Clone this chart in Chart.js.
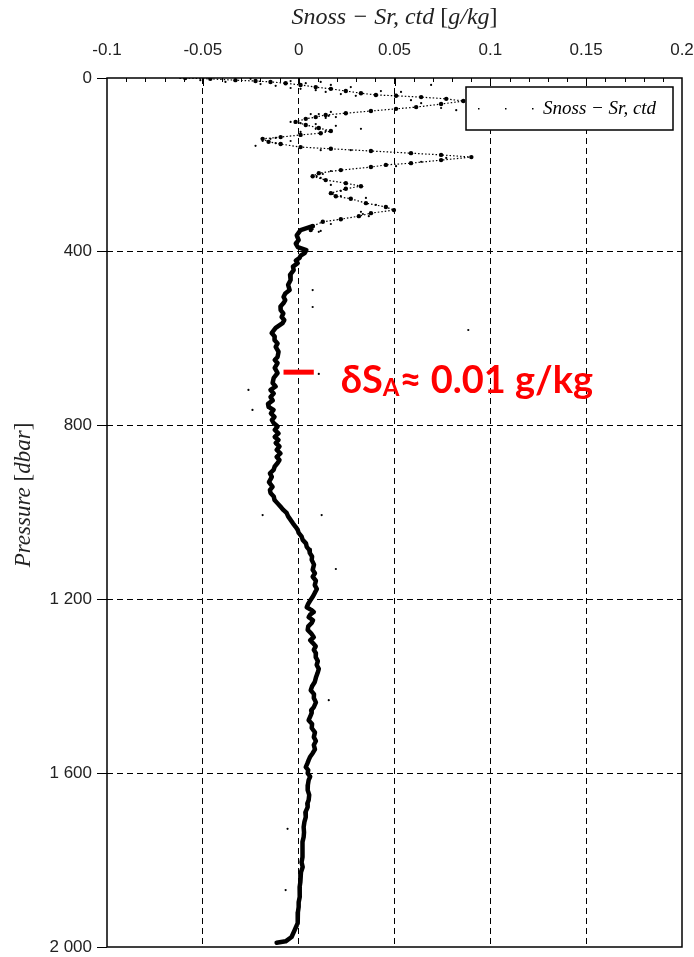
<!DOCTYPE html>
<html>
<head>
<meta charset="utf-8">
<script src="https://cdn.jsdelivr.net/npm/chart.js@4.4.0/dist/chart.umd.min.js"></script>
<style>
html, body { margin: 0; padding: 0; background: #fff; }
#wrap { width: 694px; height: 957px; }
</style>
</head>
<body>
<div id="wrap"><canvas id="profil" width="694" height="957"></canvas></div>
<script>
// Profil Snoss - Sr,ctd : [pression dbar, ecart g/kg]
// partie haute, zig-zag bruité (0 - 350 dbar)
const profilHaut = [
  [0,-0.0592],[2,-0.0461],[5,-0.0330],[7,-0.0225],[9,-0.0147],[12,-0.0068],[16,0.0010],[21,0.0089],
  [25,0.0168],[30,0.0246],[35,0.0325],[39,0.0403],[41,0.0508],[44,0.0639],[48,0.0770],[53,0.0859],
  [60,0.0743],[67,0.0613],[71,0.0508],[76,0.0377],[81,0.0246],[85,0.0141],[90,0.0089],[94,0.0037],
  [101,-0.0016],[108,0.0037],[115,0.0105],[122,0.0168],[127,0.0115],[131,0.0010],[136,-0.0094],[140,-0.0188],
  [147,-0.0157],[152,-0.0094],[159,0.0010],[163,0.0168],[168,0.0377],[173,0.0586],[177,0.0743],[182,0.0901],
  [189,0.0743],[196,0.0586],[200,0.0455],[205,0.0377],[212,0.0220],[219,0.0105],[226,0.0073],[235,0.0141],
  [242,0.0246],[249,0.0325],[255,0.0246],[265,0.0168],[272,0.0194],[278,0.0272],[288,0.0351],[297,0.0455],
  [304,0.0497],[311,0.0377],[318,0.0314],[325,0.0220],[331,0.0126],[341,0.0073],[350,0.0063]
];

// partie basse, trace continue (350 - 2000 dbar)
const profilBas = [
  [341,0.0073],[350,0.0010],[362,-0.0010],[373,0.0000],[381,-0.0015],[389,-0.0005],[396,0.0040],[403,0.0031],
  [409,0.0010],[414,0.0005],[420,-0.0015],[426,-0.0005],[434,-0.0030],[442,-0.0026],[453,-0.0045],[465,-0.0042],
  [476,-0.0055],[488,-0.0047],[496,-0.0070],[504,-0.0079],[511,-0.0070],[518,-0.0079],[526,-0.0095],[534,-0.0094],
  [542,-0.0080],[550,-0.0089],[557,-0.0075],[564,-0.0084],[575,-0.0120],[587,-0.0141],[595,-0.0125],[603,-0.0126],
  [611,-0.0110],[619,-0.0120],[630,-0.0105],[642,-0.0110],[649,-0.0125],[656,-0.0110],[667,-0.0125],[679,-0.0110],
  [690,-0.0130],[702,-0.0136],[710,-0.0120],[718,-0.0147],[726,-0.0130],[734,-0.0147],[742,-0.0135],[750,-0.0160],
  [757,-0.0157],[764,-0.0131],[772,-0.0145],[780,-0.0126],[787,-0.0140],[794,-0.0131],[802,-0.0110],[810,-0.0125],
  [818,-0.0105],[826,-0.0125],[833,-0.0105],[840,-0.0120],[848,-0.0100],[856,-0.0115],[864,-0.0095],[872,-0.0115],
  [879,-0.0100],[886,-0.0110],[894,-0.0125],[902,-0.0131],[910,-0.0150],[918,-0.0140],[930,-0.0155],[941,-0.0136],
  [948,-0.0150],[955,-0.0147],[963,-0.0130],[971,-0.0126],[979,-0.0110],[987,-0.0094],[994,-0.0080],[1001,-0.0063],
  [1009,-0.0055],[1017,-0.0042],[1025,-0.0030],[1033,-0.0016],[1040,-0.0005],[1047,0.0000],[1055,0.0015],[1063,0.0021],
  [1071,0.0038],[1079,0.0042],[1086,0.0055],[1093,0.0058],[1101,0.0070],[1109,0.0068],[1120,0.0080],[1132,0.0073],
  [1140,0.0085],[1148,0.0073],[1157,0.0090],[1167,0.0084],[1176,0.0095],[1185,0.0084],[1193,0.0075],[1201,0.0063],
  [1210,0.0050],[1218,0.0042],[1224,0.0065],[1229,0.0079],[1235,0.0060],[1241,0.0052],[1248,0.0075],[1254,0.0068],
  [1262,0.0050],[1270,0.0047],[1278,0.0065],[1287,0.0079],[1294,0.0060],[1300,0.0073],[1308,0.0089],[1316,0.0079],
  [1324,0.0090],[1333,0.0089],[1342,0.0100],[1351,0.0094],[1360,0.0105],[1369,0.0099],[1380,0.0090],[1390,0.0084],
  [1400,0.0070],[1409,0.0063],[1418,0.0080],[1427,0.0079],[1437,0.0090],[1448,0.0079],[1455,0.0065],[1461,0.0068],
  [1470,0.0060],[1478,0.0052],[1487,0.0070],[1496,0.0068],[1506,0.0085],[1517,0.0079],[1526,0.0090],[1535,0.0079],
  [1545,0.0085],[1554,0.0073],[1562,0.0060],[1570,0.0052],[1578,0.0045],[1586,0.0037],[1593,0.0050],[1600,0.0047],
  [1608,0.0060],[1616,0.0052],[1627,0.0048],[1639,0.0047],[1650,0.0055],[1662,0.0052],[1670,0.0045],[1678,0.0047],
  [1690,0.0035],[1701,0.0037],[1712,0.0030],[1724,0.0026],[1736,0.0028],[1747,0.0026],[1758,0.0020],[1770,0.0021],
  [1782,0.0018],[1793,0.0021],[1805,0.0015],[1816,0.0021],[1828,0.0012],[1839,0.0010],[1850,0.0008],[1862,0.0005],
  [1873,0.0006],[1885,0.0005],[1897,0.0000],[1908,0.0000],[1920,-0.0004],[1931,-0.0005],[1945,-0.0005],[1961,-0.0021],
  [1977,-0.0037],[1987,-0.0068],[1990,-0.0115]
];

// points isoles (bruit)
const pointsIsoles = [
  [0,-0.0618],[5,-0.0513],[9,-0.0382],[2,-0.0251],[14,-0.0199],[18,-0.0120],[12,0.0037],[23,-0.0042],
  [28,0.0089],[16,0.0168],[32,0.0141],[21,0.0272],[37,0.0220],[25,0.0010],[41,0.0298],[9,0.0115],
  [30,0.0429],[39,0.0508],[51,0.0586],[58,0.0639],[69,0.0743],[74,0.0822],[78,0.0168],[83,0.0063],
  [92,0.0141],[106,0.0089],[110,0.0194],[117,0.0325],[124,0.0010],[138,-0.0120],[145,-0.0042],[156,-0.0225],
  [166,0.0272],[184,0.0770],[193,0.0639],[203,0.0508],[214,0.0168],[230,0.0115],[246,0.0168],[260,0.0220],
  [276,0.0351],[292,0.0403],[308,0.0325],[336,0.0168],[354,0.0105],[16,0.0691],[44,0.0901],[32,0.0534],
  [7,-0.0042],[12,-0.0147],[166,0.0115],
  [83,0.0105],[87,0.0157],[90,0.0194],[101,-0.0042],[104,0.0010],[117,0.0089],[122,0.0141],[140,-0.0147],
  [145,-0.0188],[150,-0.0120],[221,0.0126],[226,0.0094],[267,0.0178],[272,0.0220],[313,0.0335],[318,0.0366],
  [348,0.0073],[352,0.0115],
  [580,0.0885],[681,0.0105],[488,0.0073],[527,0.0073],[718,-0.0262],[764,-0.0241],[1006,-0.0188],
  [1006,0.0120],[1130,0.0194],[1728,-0.0058],[1432,0.0157],[1869,-0.0068]
];

const xTickVals = [-0.1, -0.05, 0, 0.05, 0.1, 0.15, 0.2];
const yTickLabels = ['0', '400', '800', '1 200', '1 600', '2 000'];

const toXY = arr => arr.map(d => ({ x: d[1], y: d[0] }));

function textMixte(ctx, parts, cx, cy, size) {
  let total = 0;
  parts.forEach(p => {
    ctx.font = (p[1] ? 'italic ' : '') + size + 'px "Liberation Serif"';
    total += ctx.measureText(p[0]).width;
  });
  let x = cx - total / 2;
  ctx.textAlign = 'left';
  ctx.textBaseline = 'middle';
  parts.forEach(p => {
    ctx.font = (p[1] ? 'italic ' : '') + size + 'px "Liberation Serif"';
    ctx.fillText(p[0], x, cy);
    x += ctx.measureText(p[0]).width;
  });
}

const decor = {
  id: 'decor',
  afterDatasetsDraw(chart) {
    const ctx = chart.ctx;
    const a = chart.chartArea;
    const xs = chart.scales.x, ys = chart.scales.y;
    ctx.save();
    // cadre
    ctx.strokeStyle = '#000';
    ctx.lineWidth = 1.5;
    ctx.setLineDash([]);
    ctx.strokeRect(a.left, a.top, a.right - a.left, a.bottom - a.top);
    // petites graduations en haut
    ctx.lineWidth = 1;
    for (let i = -9; i < 20; i++) {
      const px = Math.round(xs.getPixelForValue(i / 100)) + 0.5;
      const len = i % 5 === 0 ? 8 : 4;
      ctx.beginPath();
      ctx.moveTo(px, a.top);
      ctx.lineTo(px, a.top + len);
      ctx.stroke();
    }
    // legende
    ctx.fillStyle = '#fff';
    ctx.fillRect(466, 87, 207, 43);
    ctx.lineWidth = 1.5;
    ctx.strokeRect(466, 87, 207, 43);
    ctx.fillStyle = '#000';
    [478, 505, 532].forEach(x => ctx.fillRect(x, 108, 1.5, 1.5));
    ctx.font = 'italic 19px "Liberation Serif"';
    ctx.textAlign = 'left';
    ctx.textBaseline = 'middle';
    ctx.fillText('Snoss \u2212 Sr, ctd', 543, 109);

    // annotation rouge
    ctx.strokeStyle = '#ff0000';
    ctx.lineWidth = 5;
    const yb = ys.getPixelForValue(677);
    ctx.beginPath();
    ctx.moveTo(xs.getPixelForValue(-0.0079), yb);
    ctx.lineTo(xs.getPixelForValue(0.0079), yb);
    ctx.stroke();

    const x0 = xs.getPixelForValue(0.022);
    const base = ys.getPixelForValue(725);
    let size = 40;
    const mesure = s => {
      ctx.font = 'bold ' + s + 'px Lato';
      const w1 = ctx.measureText('\u03b4S').width;
      const w3 = ctx.measureText('\u2248 0.01 g/kg').width;
      ctx.font = 'bold ' + Math.round(s * 0.62) + 'px Lato';
      const w2 = ctx.measureText('A').width;
      return [w1, w2, w3];
    };
    let w = mesure(size);
    size = size * 252 / (w[0] + w[1] + w[2]);
    w = mesure(size);
    ctx.fillStyle = '#ff0000';
    ctx.textBaseline = 'alphabetic';
    ctx.font = 'bold ' + size + 'px Lato';
    ctx.fillText('\u03b4S', x0, base);
    ctx.font = 'bold ' + Math.round(size * 0.62) + 'px Lato';
    ctx.fillText('A', x0 + w[0], base + 3);
    ctx.font = 'bold ' + size + 'px Lato';
    ctx.fillText('\u2248 0.01 g/kg', x0 + w[0] + w[1], base);

    // titres des axes
    ctx.fillStyle = '#222';
    textMixte(ctx, [['Snoss \u2212 Sr, ctd ', true], ['[', false], ['g/kg', true], [']', false]],
      (a.left + a.right) / 2, 18, 24);
    ctx.translate(24, 495);
    ctx.rotate(-Math.PI / 2);
    textMixte(ctx, [['Pressure ', true], ['[', false], ['dbar', true], [']', false]], 0, 0, 23);
    ctx.restore();
  }
};

const invisible = 'rgba(0,0,0,0)';

new Chart(document.getElementById('profil'), {
  type: 'scatter',
  data: {
    datasets: [
      {
        label: 'Snoss \u2212 Sr, ctd',
        data: toXY(profilHaut),
        showLine: true,
        borderColor: '#000',
        backgroundColor: '#000',
        borderWidth: 1.2,
        borderDash: [1.5, 2],
        pointRadius: 2.2,
        pointBorderWidth: 0
      },
      {
        label: 'profil bas',
        data: toXY(profilBas),
        showLine: true,
        borderColor: '#000',
        borderWidth: 4.5,
        pointRadius: 0,
        borderJoinStyle: 'round',
        borderCapStyle: 'round'
      },
      {
        label: 'bruit',
        data: toXY(pointsIsoles),
        backgroundColor: '#000',
        pointRadius: 1.1,
        pointBorderWidth: 0
      }
    ]
  },
  options: {
    responsive: false,
    animation: false,
    devicePixelRatio: 1,
    events: [],
    layout: { padding: { left: 0, right: 12, top: 0, bottom: 10 } },
    plugins: { legend: { display: false }, tooltip: { enabled: false } },
    scales: {
      x: {
        type: 'linear',
        position: 'top',
        min: -0.1,
        max: 0.2,
        afterFit: s => { s.height = 78; s.paddingLeft = 0; s.paddingRight = 0; },
        afterBuildTicks: s => { s.ticks = xTickVals.map(v => ({ value: v })); },
        ticks: {
          padding: 17,
          color: '#222',
          font: { family: 'Liberation Sans', size: 17 },
          callback: v => String(Number(v.toFixed(2)))
        },
        grid: {
          drawTicks: false,
          color: c => (c.tick && (c.tick.value <= -0.0999 || c.tick.value >= 0.1999)) ? invisible : '#000',
          lineWidth: 1
        },
        border: { display: false, dash: [6, 4] }
      },
      y: {
        type: 'linear',
        reverse: true,
        min: 0,
        max: 2000,
        afterFit: s => { s.width = 107; s.paddingTop = 0; s.paddingBottom = 0; },
        afterBuildTicks: s => { s.ticks = yTickLabels.map((t, i) => ({ value: i * 400 })); },
        ticks: {
          padding: 5,
          color: '#222',
          font: { family: 'Liberation Sans', size: 17 },
          callback: (v, i) => yTickLabels[i]
        },
        grid: {
          drawTicks: true,
          tickLength: 10,
          tickColor: '#000',
          tickWidth: 1,
          color: c => (c.tick && (c.tick.value === 0 || c.tick.value === 2000)) ? invisible : '#000',
          lineWidth: 1
        },
        border: { display: false, dash: [6, 4] }
      }
    }
  },
  plugins: [decor]
});
</script>
</body>
</html>
